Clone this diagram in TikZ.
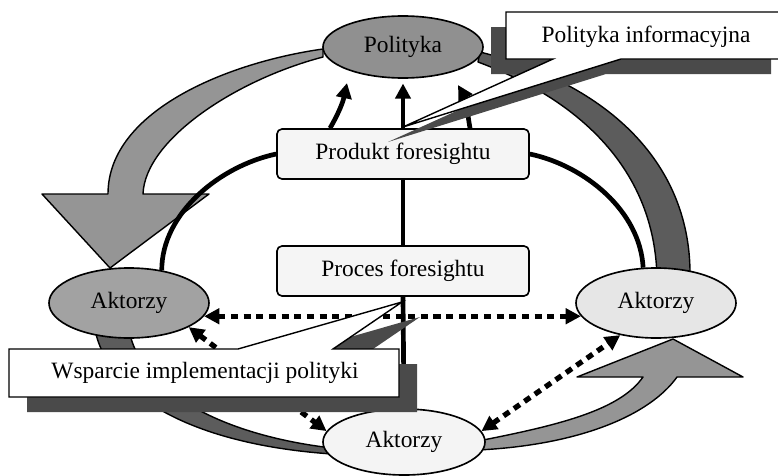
\documentclass[tikz,border=0pt]{standalone}
\usepackage{fontspec}
\setmainfont{Liberation Serif}
\usetikzlibrary{shapes.geometric,arrows.meta,calc}

\definecolor{polgray}{HTML}{909090}
\definecolor{leftgray}{HTML}{A2A2A2}
\definecolor{rightgray}{HTML}{E6E6E6}
\definecolor{botgray}{HTML}{F4F4F4}
\definecolor{boxgray}{HTML}{F5F5F5}
\definecolor{arrowgray}{HTML}{959595}
\definecolor{darkband}{HTML}{5C5C5C}
\definecolor{calloutgray}{HTML}{4A4A4A}

\begin{document}
\begin{tikzpicture}[x=0.03cm,y=-0.03cm,
  every node/.style={font=\fontsize{20}{24}\selectfont},
  actor/.style={ellipse, draw=black, line width=1.4pt, minimum width=4.8cm, minimum height=2.1cm, inner sep=0pt},
  stage/.style={rectangle, rounded corners=0.15cm, draw=black, line width=1.4pt, fill=boxgray, minimum width=7.56cm, minimum height=1.5cm},
  link/.style={line width=4pt, -{Triangle[length=13pt,width=13pt]}},
  dots/.style={line width=4.5pt, dash pattern=on 6pt off 4.8pt, {Triangle[length=13pt,width=13pt]}-{Triangle[length=13pt,width=13pt]}},
  band/.style={draw=black, line width=1.2pt, line join=round},
  callout/.style={draw=black, fill=white, line width=1.2pt},
  calloutshadow/.style={fill=calloutgray}]
\useasboundingbox (0,0) rectangle (778,476);

\draw[band, fill=arrowgray] (323,49) .. controls (230,62) and (108,110) .. (108,194) -- (42,194) -- (110,268) -- (209,194) -- (143,194) .. controls (145,140) and (235,80) .. (323,57) -- cycle;
\draw[band, fill=darkband] (480,52) .. controls (610,85) and (692,165) .. (690,278) -- (657,278) .. controls (655,170) and (580,100) .. (478,62) -- cycle;
\draw[band, fill=darkband] (95,330) .. controls (110,400) and (200,445) .. (332,454) -- (332,448) .. controls (220,435) and (140,390) .. (129,330) -- cycle;
\draw[band, fill=arrowgray] (478,441) .. controls (560,425) and (620,410) .. (643,377) -- (577,377) -- (673,339) -- (743,377) -- (677,377) .. controls (650,415) and (580,445) .. (478,450) -- cycle;

\node[actor, fill=polgray, minimum height=1.86cm] (pol) at (403,47) {Polityka};
\node[actor, fill=leftgray] (aktL) at (129,303) {Aktorzy};
\node[actor, fill=rightgray] (aktR) at (656,303) {Aktorzy};
\node[actor, fill=botgray, minimum width=4.86cm, minimum height=1.98cm] (aktB) at (404,442) {Aktorzy};
\node[stage] (prod) at (403,154) {Produkt foresightu};
\node[stage] (proc) at (403,271) {Proces foresightu};

\coordinate (tipL) at (347,83);
\coordinate (tipR) at (458,85);

\draw[line width=4pt] (prod.west) to[out=192,in=90,looseness=0.9] (aktL.45);
\draw[line width=4pt] (prod.east) to[out=-12,in=93,looseness=0.9] (aktR.110);
\draw[line width=4pt] (prod.south) -- (proc.north);
\draw[line width=4pt] (proc.south) -- (aktB.north);
\draw[link, shorten >=4pt] (prod.north) -- (pol.south);
\draw[link] ($(prod.north)+(-73,0)$) to[out=60,in=-102] (tipL);
\draw[link] ($(prod.north)+(67,0)$) to[out=100,in=-60] (tipR);

\draw[dots] (aktL.-10) -- (aktR.190);
\draw[dots] (aktL.-22) -- (aktB.172);
\draw[dots] (aktB.8) -- (aktR.222);

\fill[calloutshadow, shift={(-15,15)}] (506,12) -- (786,12) -- (786,59) -- (621,59) -- (403,127) -- (553,59) -- (506,59) -- cycle;
\draw[callout] (506,12) -- (786,12) -- (786,59) -- (621,59) -- (403,127) -- (553,59) -- (506,59) -- cycle;
\node (infoTxt) at (646,37) {Polityka informacyjna};

\fill[calloutshadow, shift={(18,15)}] (9,349) -- (238,349) -- (402,302) -- (333,349) -- (399,349) -- (399,397) -- (9,397) -- cycle;
\draw[callout] (9,349) -- (238,349) -- (402,302) -- (333,349) -- (399,349) -- (399,397) -- (9,397) -- cycle;
\node (wspTxt) at (205,373) {Wsparcie implementacji polityki};
\end{tikzpicture}
\end{document}
